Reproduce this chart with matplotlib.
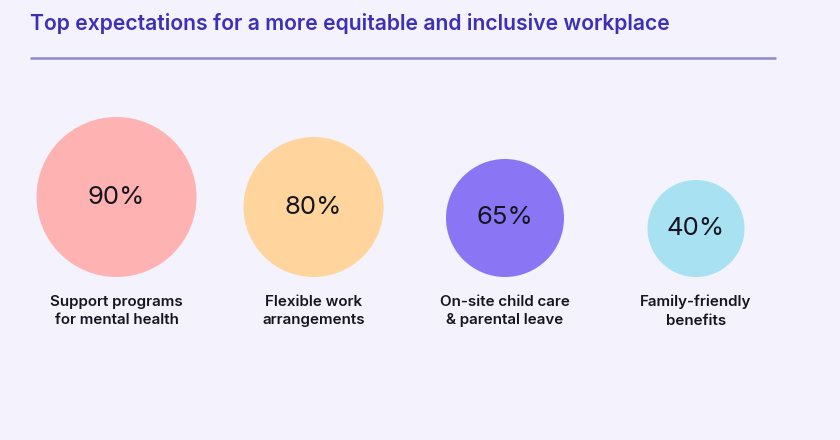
import matplotlib.pyplot as plt
from matplotlib.patches import Circle

plt.rcParams['font.family'] = ['Inter', 'DejaVu Sans']

title = "Top expectations for a more equitable and inclusive workplace"
categories = ["Support programs\nfor mental health", "Flexible work\narrangements",
              "On-site child care\n& parental leave", "Family-friendly\nbenefits"]
values = [90, 80, 65, 40]

# layout (pixel coords)
centers_x = [116.5, 313.5, 505, 696]
radii = [80, 70, 59, 48.5]
colors = ["#ffb2b2", "#ffd59d", "#8a76f5", "#a8e2f2"]
bottom = 277
bg = "#f3f2fd"

fig = plt.figure(figsize=(8.4, 4.4), dpi=100)
fig.patch.set_facecolor(bg)
ax = fig.add_axes([0, 0, 1, 1])
ax.set_xlim(0, 840)
ax.set_ylim(440, 0)
ax.set_aspect('equal')
ax.axis('off')

ax.text(30, 23, title, fontsize=15.2, fontweight='semibold', color="#3d2fb8",
        ha='left', va='center')
ax.plot([30, 776], [58, 58], color="#8f88cc", lw=1.8, solid_capstyle='butt')

for x, r, c, v, lab in zip(centers_x, radii, colors, values, categories):
    cy = bottom - r
    ax.add_patch(Circle((x, cy), r, facecolor=c, edgecolor='none'))
    ax.text(x, cy, f"{v}%", fontsize=18.5, color="#15151f", ha='center', va='center')
    ax.text(x, 311, lab, fontsize=10.9, fontweight='semibold', color="#15151f",
            ha='center', va='center', linespacing=1.45)

fig.savefig("out.png", dpi=100, facecolor=bg)
